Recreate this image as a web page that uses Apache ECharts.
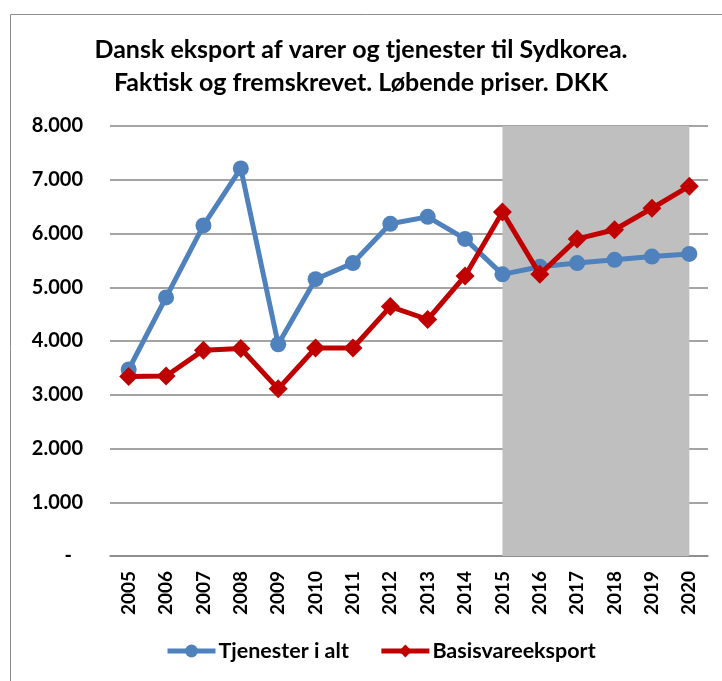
<!DOCTYPE html>
<html><head><meta charset="utf-8">
<script src="https://cdn.jsdelivr.net/npm/echarts@6/dist/echarts.min.js"></script>
<style>html,body{margin:0;padding:0;background:#fff}#c{width:722px;height:681px}</style>
</head><body><div id="c"></div>
<script>
const years = ['2005','2006','2007','2008','2009','2010','2011','2012','2013','2014','2015','2016','2017','2018','2019','2020'];
const tjenester = [3470,4810,6150,7210,3940,5150,5450,6180,6310,5900,5240,5380,5450,5510,5570,5620];
const basisvare = [3340,3350,3830,3860,3110,3870,3870,4640,4400,5210,6400,5240,5900,6070,6470,6880];
const yTicks = {min:0, max:8000, interval:1000};
const forecastStart = '2015', forecastEnd = '2020';
const titleLines = ['Dansk eksport af varer og tjenester til Sydkorea.','Faktisk og fremskrevet. Løbende priser. DKK'];
const seriesNames = ['Tjenester i alt','Basisvareeksport'];

const font = 'Lato, "Open Sans", sans-serif';
const chart = echarts.init(document.getElementById('c'), null, {renderer:'canvas'});
chart.setOption({
  animation:false,
  backgroundColor:'#fff',
  graphic:[{type:'rect', shape:{x:10.5,y:14.5,width:730,height:700}, style:{fill:'none', stroke:'#8c8c8c', lineWidth:1}, z:-1}],
  title:{text:titleLines.join('\n'), left:'center', top:28, textStyle:{fontFamily:font, fontWeight:'bold', fontSize:25, lineHeight:33, color:'#000'}},
  grid:{left:110, right:14, top:126, bottom:125},
  legend:{bottom:14, left:160, itemWidth:48, itemHeight:16, itemGap:30,
    lineStyle:{width:5},
    textStyle:{fontFamily:font, fontWeight:'bold', fontSize:21.5, color:'#000', padding:[0,0,0,-2]},
    data:seriesNames},
  xAxis:{type:'category', data:years, boundaryGap:true,
    axisLine:{lineStyle:{color:'#868686', width:1.5}}, axisTick:{show:false},
    axisLabel:{rotate:90, margin:15, fontFamily:font, fontWeight:'bold', fontSize:19, color:'#000'}},
  yAxis:{type:'value', min:yTicks.min, max:yTicks.max, interval:yTicks.interval,
    axisLine:{show:false}, axisTick:{show:false},
    splitLine:{lineStyle:{color:'#868686', width:1.5}},
    axisLabel:{margin:27, fontFamily:font, fontWeight:'bold', fontSize:20, color:'#000',
      formatter:v => v===0 ? '{d|-}' : (v/1000).toFixed(3),
      rich:{d:{fontFamily:font, fontWeight:'bold', fontSize:20, color:'#000', padding:[0,11,0,0]}}}},
  series:[
    {name:seriesNames[0], type:'line', data:tjenester, symbol:'circle', symbolSize:16,
     lineStyle:{color:'#4f81bd', width:5}, itemStyle:{color:'#4f81bd'}, z:3,
     markArea:{silent:true, itemStyle:{color:'#bfbfbf', opacity:1}, data:[[{xAxis:forecastStart},{xAxis:forecastEnd}]]}},
    {name:seriesNames[1], type:'line', data:basisvare, symbol:'diamond', symbolSize:19,
     lineStyle:{color:'#c00000', width:5}, itemStyle:{color:'#c00000'}, z:4}
  ]
});
</script></body></html>
